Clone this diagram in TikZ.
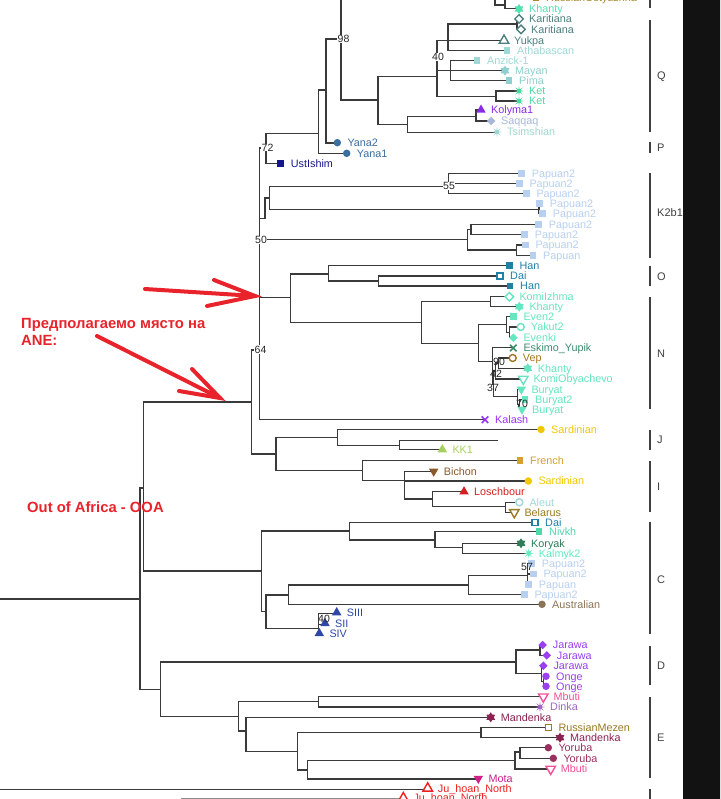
\documentclass[tikz,border=0pt]{standalone}
\usepackage{fontspec}
\newfontfamily\lf{Liberation Sans}
\usetikzlibrary{shapes.geometric,shapes.misc}
\definecolor{cRO}{HTML}{A88A30}
\definecolor{cKh}{HTML}{55E0B0}
\definecolor{cKar}{HTML}{4D8080}
\definecolor{cAth}{HTML}{A0D8D8}
\definecolor{cMay}{HTML}{8ED0D0}
\definecolor{cKet}{HTML}{4ED8A0}
\definecolor{cKol}{HTML}{8A2BE2}
\definecolor{cSaq}{HTML}{A9B8D8}
\definecolor{cTsi}{HTML}{9ED8D0}
\definecolor{cYana}{HTML}{3A6FA0}
\definecolor{cUst}{HTML}{16168C}
\definecolor{cPap}{HTML}{B8D0F0}
\definecolor{cHan}{HTML}{2080A8}
\definecolor{cN}{HTML}{66E6C0}
\definecolor{cEsk}{HTML}{3C8C6C}
\definecolor{cVep}{HTML}{A07820}
\definecolor{cKal}{HTML}{9B30FF}
\definecolor{cSar}{HTML}{F2C800}
\definecolor{cKK}{HTML}{A8D060}
\definecolor{cFr}{HTML}{D4A030}
\definecolor{cBi}{HTML}{8B5A2B}
\definecolor{cLo}{HTML}{D42020}
\definecolor{cBel}{HTML}{9A7A20}
\definecolor{cNiv}{HTML}{50D8A8}
\definecolor{cKor}{HTML}{2E7D5A}
\definecolor{cKlm}{HTML}{60EDC0}
\definecolor{cAus}{HTML}{8B7355}
\definecolor{cS}{HTML}{2F48A8}
\definecolor{cJar}{HTML}{9B40F0}
\definecolor{cMbu}{HTML}{F0509A}
\definecolor{cDin}{HTML}{A066C0}
\definecolor{cMan}{HTML}{8B2252}
\definecolor{cYor}{HTML}{9B3060}
\definecolor{cMot}{HTML}{D0208A}
\definecolor{cJu}{HTML}{F02020}
\definecolor{cRed}{HTML}{E8232B}
\definecolor{cBr}{HTML}{3A3A3A}
\tikzset{
 br/.style={draw=cBr, line width=1.1pt, line cap=rect},
 mk/.style={inner sep=0pt, outer sep=0pt},
 sqf/.style={mk, rectangle, minimum size=6.5pt, fill=#1},
 sqo/.style={mk, rectangle, minimum size=6pt, draw=#1, line width=1.4pt, fill=white},
 dia/.style={mk, diamond, minimum size=8.5pt, fill=#1},
 diao/.style={mk, diamond, minimum size=8.5pt, draw=#1, line width=1.4pt, fill=white},
 tri/.style={mk, regular polygon, regular polygon sides=3, minimum size=11pt, fill=#1},
 trio/.style={mk, regular polygon, regular polygon sides=3, minimum size=11pt, draw=#1, line width=1.4pt, fill=white},
 trid/.style={mk, regular polygon, regular polygon sides=3, shape border rotate=180, minimum size=11pt, fill=#1},
 trido/.style={mk, regular polygon, regular polygon sides=3, shape border rotate=180, minimum size=11pt, draw=#1, line width=1.4pt, fill=white},
 cir/.style={mk, circle, minimum size=7.5pt, fill=#1},
 ciro/.style={mk, circle, minimum size=7pt, draw=#1, line width=1.4pt, fill=white},
 ast/.style={mk, star, star points=8, star point ratio=3, minimum size=10pt, fill=#1},
 sdav/.style={mk, star, star points=6, star point ratio=1.6, minimum size=10pt, fill=#1},
 xm/.style={mk, cross out, draw=#1, line width=1.6pt, minimum size=6.5pt},
 lab/.style={anchor=base west, inner sep=0pt, font=\lf\fontsize{10.8}{12}\selectfont},
 boot/.style={inner sep=0.3pt, fill=white, font=\lf\fontsize{10.5}{12}\selectfont, text=black!85},
 cbar/.style={draw=black!75, line width=1.2pt},
 clab/.style={anchor=west, inner sep=0pt, font=\lf\fontsize{11}{12}\selectfont, text=black!75},
 arr/.style={draw=cRed, line width=4pt, line cap=round},
 ann/.style={anchor=base west, inner sep=0pt, text=cRed, font=\lf\bfseries\fontsize{14.8}{17}\selectfont},
}
\newcounter{tc}
\newcommand\tip[5]{\stepcounter{tc}\node[#1=#4] (m\thetc) at (#2,#3) {};\node[lab,text=#4] (l\thetc) at (#2+10,#3+3.9) {#5};}
\newcommand\hb[3]{\draw[br] (#1,#3) -- (#2,#3);}
\newcommand\vb[3]{\draw[br] (#1,#2) -- (#1,#3);}
\begin{document}
\begin{tikzpicture}[x=1pt,y=-1pt]
\useasboundingbox (0,0) rectangle (720,799);
\clip (0,0) rectangle (720,799);
\fill[white] (0,0) rectangle (720,799);
% ---------- top / Q ----------
\vb{495}{-12}{5}\hb{495}{505}{5}\vb{505}{-2}{8.3}\hb{505}{536}{-2}\hb{505}{519}{8.3}
\vb{341}{-12}{100}\hb{326}{341}{39}
\hb{341}{378}{100}\vb{378}{76.7}{124.3}
\hb{378}{437}{76.7}\vb{437}{40.7}{96.7}
\hb{437}{448}{40.7}\vb{448}{24}{50.7}
\hb{448}{517}{24}\vb{517}{19}{29.3}\hb{517}{519}{19}\hb{517}{521}{29.3}
\hb{448}{504}{40.7}\hb{448}{507}{50.7}
\hb{437}{450.7}{70.7}\vb{450.7}{60.7}{80.7}\hb{450.7}{477}{60.7}\hb{450.7}{505}{70.7}\hb{450.7}{509}{80.7}
\hb{437}{496}{96.7}\vb{496}{91}{101}\hb{496}{519}{91}\hb{496}{519}{101}
\hb{378}{407.7}{124.3}\vb{407.7}{116.7}{132.3}\hb{407.7}{476}{116.7}\vb{476}{110}{121}\hb{476}{481}{110}\hb{476}{491}{121}\hb{407.7}{497}{132.3}
% P
\vb{326}{39}{143}\hb{326}{337}{143}
\hb{318.7}{326}{90}\vb{318.7}{90}{153.3}\hb{318.7}{346.7}{153.3}
\hb{266}{318.7}{133.3}\vb{266}{133.3}{163.3}\hb{266}{280.7}{163.3}
\hb{259.3}{266}{148}\vb{259.3}{148}{419.7}
% K2b1
\hb{259.3}{265}{218.3}\vb{265}{198}{218.3}\hb{265}{269.3}{198}\vb{269.3}{186.7}{209.3}
\hb{269.3}{448.3}{186.7}\vb{448.3}{173.3}{193.3}\hb{448.3}{521.7}{173.3}\hb{448.3}{519.3}{183.3}\hb{448.3}{526.3}{193.3}
\hb{269.3}{539}{209.3}\vb{539}{203.3}{213.3}\hb{539}{542.7}{213.3}
\hb{259.3}{467.7}{239.3}\vb{467.7}{229.5}{250}\hb{467.7}{471}{229.5}\vb{471}{224.3}{234.7}\hb{471}{538.7}{224.3}\hb{471}{524.7}{234.7}
\hb{467.7}{516.7}{250}\vb{516.7}{245}{255.3}\hb{516.7}{525.3}{245}\hb{516.7}{533}{255.3}
% O / N
\hb{259.3}{290.7}{297.7}\vb{290.7}{274}{322.7}
\hb{290.7}{328.3}{274}\vb{328.3}{265.7}{281}\hb{328.3}{509.3}{265.7}\hb{328.3}{378.3}{281}\vb{378.3}{276}{286}\hb{378.3}{500}{276}\hb{378.3}{510}{286}
\hb{290.7}{421.7}{322.7}\vb{421.7}{301.7}{343.3}
\hb{421.7}{490.7}{301.7}\vb{490.7}{296.7}{306.7}\hb{490.7}{509.3}{296.7}\hb{490.7}{519.3}{306.7}
\hb{421.7}{478.3}{343.3}\vb{478.3}{324.3}{361.7}
\hb{478.3}{506.7}{324.3}\vb{506.7}{316.7}{332.3}\hb{506.7}{513.3}{316.7}\hb{506.7}{509.3}{332.3}\vb{509.3}{327}{337.7}\hb{509.3}{520.7}{327}\hb{509.3}{513.3}{337.7}
\hb{478.3}{492.3}{361.7}\vb{492.3}{347.7}{384}\hb{492.3}{513.3}{347.7}
\hb{492.3}{493.5}{384}\vb{493.5}{371}{396.7}
\hb{493.5}{495.7}{371}\vb{495.7}{363}{379}\hb{495.7}{523.3}{379}
\hb{495.7}{498.3}{363}\vb{498.3}{358}{368.3}\hb{498.3}{512.7}{358}\hb{498.3}{527.7}{368.3}
\hb{493.5}{517.3}{396.7}\vb{517.3}{389.3}{404.3}\hb{517.3}{521.3}{389.3}\hb{517.3}{519.5}{404.3}\vb{519.5}{399.3}{409.3}\hb{519.5}{525}{399.3}\hb{519.5}{522}{409.3}
\hb{259.3}{485}{419.7}
% 64 / J / I
\hb{251.3}{259.3}{350}\vb{251.3}{350}{454}
\hb{143.3}{251.3}{402}
\hb{251.3}{276}{454}\vb{276}{437.7}{470.3}
\hb{276}{337.7}{437.7}\vb{337.7}{429.5}{445.7}\hb{337.7}{541}{429.5}
\hb{337.7}{399.3}{445.7}\vb{399.3}{440.3}{449.5}\hb{399.3}{497.7}{440.3}\hb{399.3}{442.3}{449.5}
\hb{276}{362.3}{470.3}\vb{362.3}{460.7}{480.3}\hb{362.3}{520}{460.7}
\hb{362.3}{404.3}{480.3}\vb{404.3}{471.3}{499}\hb{404.3}{433.7}{471.3}\hb{404.3}{528.3}{481}
\hb{404.3}{432.3}{499}\vb{432.3}{491.7}{506.7}\hb{432.3}{464}{491.7}
\hb{432.3}{505.7}{506.7}\vb{505.7}{502.3}{512.3}\hb{505.7}{519.3}{502.3}\hb{505.7}{514.3}{512.3}
% OOA
\vb{143.3}{402}{571}\hb{143.3}{261.7}{571}
\hb{140}{143.3}{488}\vb{140}{488}{689.3}\hb{0}{140}{599}
\hb{140}{160.3}{689.3}\vb{160.3}{662}{716.5}
% C
\vb{261.7}{531}{611.7}
\hb{261.7}{349.3}{531}\vb{349.3}{522.3}{540}\hb{349.3}{535}{522.3}
\hb{349.3}{435}{540}\vb{435}{531.7}{547.7}\hb{435}{539}{531.7}
\hb{435}{462.3}{547.7}\vb{462.3}{543.3}{553.3}\hb{462.3}{521}{543.3}\hb{462.3}{528.7}{553.3}
\hb{261.7}{266}{611.7}\vb{266}{595}{628.3}
\hb{266}{288.3}{595}\vb{288.3}{585}{604.3}
\hb{288.3}{468.3}{585}\vb{468.3}{575.7}{594.3}
\hb{468.3}{527.3}{575.7}\vb{527.3}{563.3}{584.3}\hb{527.3}{531.7}{563.3}\hb{527.3}{533.3}{574}\hb{527.3}{528.7}{584.3}
\hb{468.3}{524.3}{594.3}
\hb{288.3}{542}{604.3}
\hb{266}{318.3}{628.3}\vb{318.3}{613.7}{634.3}\hb{318.3}{336.7}{613.7}\hb{318.3}{325}{624.3}
% D
\hb{160.3}{516}{662}\vb{516}{650}{673.3}
\hb{516}{540}{650}\vb{540}{645}{655.3}\hb{540}{542.7}{645}\hb{540}{546.7}{655.3}
\hb{516}{541.7}{673.3}\vb{541.7}{665.7}{681.3}\hb{541.7}{543.3}{665.7}\hb{541.7}{543.7}{681.3}\vb{543.7}{676.3}{686.3}\hb{543.7}{546}{676.3}\hb{543.7}{546}{686.3}
% E
\hb{160.3}{238.3}{716.5}\vb{238.3}{701.7}{731}
\hb{238.3}{318.3}{701.7}\vb{318.3}{696.7}{707}\hb{318.3}{543.3}{696.7}\hb{318.3}{540}{707}
\hb{238.3}{246}{731}\vb{246}{717.3}{751.7}\hb{246}{490.7}{717.3}
\hb{246}{297.3}{751.7}\vb{297.3}{732.7}{770}
\hb{297.3}{481}{732.7}\vb{481}{727.7}{737.7}\hb{481}{548.3}{727.7}\hb{481}{560}{737.7}
\hb{297.3}{307.3}{770}\vb{307.3}{760.7}{779}
\hb{307.3}{515}{760.7}\vb{515}{752}{769}\hb{515}{520}{752}\vb{520}{747.7}{758.3}\hb{520}{548.3}{747.7}\hb{520}{553.3}{758.3}\hb{515}{550.7}{769}
\hb{307.3}{478.3}{779}
% bottom
\hb{0}{427.7}{789.3}
\draw[br,draw=black!45] (181.7,798.5) -- (403.3,798.5);
% ---------- tips ----------
\tip{sqf}{536}{-2}{cRO}{RussianOstyuzhna}
\tip{sdav}{519}{9}{cKh}{Khanty}
\tip{diao}{519}{19}{cKar}{Karitiana}
\tip{diao}{521}{29.3}{cKar}{Karitiana}
\tip{trio}{504}{40.5}{cKar}{Yukpa}
\tip{sqf}{507}{50.7}{cAth}{Athabascan}
\tip{sqf}{477}{60.7}{cAth}{Anzick-1}
\tip{sdav}{505}{70.7}{cMay}{Mayan}
\tip{sqf}{509}{80.7}{cMay}{Pima}
\tip{ast}{519}{91}{cKet}{Ket}
\tip{ast}{519}{101}{cKet}{Ket}
\tip{tri}{481}{110}{cKol}{Kolyma1}
\tip{dia}{491}{121}{cSaq}{Saqqaq}
\tip{ast}{497}{132}{cTsi}{Tsimshian}
\tip{cir}{337.3}{142.7}{cYana}{Yana2}
\tip{cir}{346.7}{153.3}{cYana}{Yana1}
\tip{sqf}{280.7}{163.3}{cUst}{UstIshim}
\tip{sqf}{521.7}{173.3}{cPap}{Papuan2}
\tip{sqf}{519.3}{183.3}{cPap}{Papuan2}
\tip{sqf}{526.3}{193.3}{cPap}{Papuan2}
\tip{sqf}{539.7}{203.3}{cPap}{Papuan2}
\tip{sqf}{542.7}{213.3}{cPap}{Papuan2}
\tip{sqf}{538.7}{224.3}{cPap}{Papuan2}
\tip{sqf}{524.7}{234.7}{cPap}{Papuan2}
\tip{sqf}{525.3}{245}{cPap}{Papuan2}
\tip{sqf}{533}{255.3}{cPap}{Papuan}
\tip{sqf}{509.3}{265.7}{cHan}{Han}
\tip{sqo}{500}{276}{cHan}{Dai}
\tip{sqf}{510}{286}{cHan}{Han}
\tip{diao}{509.3}{296.7}{cN}{KomiIzhma}
\tip{sdav}{519.3}{306.7}{cN}{Khanty}
\tip{sqf}{513.3}{316.7}{cN}{Even2}
\tip{ciro}{520.7}{327}{cN}{Yakut2}
\tip{dia}{513.3}{337.7}{cN}{Evenki}
\tip{xm}{513.3}{348}{cEsk}{Eskimo\_Yupik}
\tip{ciro}{512.7}{358}{cVep}{Vep}
\tip{sdav}{527.7}{368.3}{cN}{Khanty}
\tip{trido}{523.3}{379}{cN}{KomiObyachevo}
\tip{trid}{521.3}{389.3}{cN}{Buryat}
\tip{sqf}{525}{399.3}{cN}{Buryat2}
\tip{trid}{522}{409.3}{cN}{Buryat}
\tip{xm}{485}{419.7}{cKal}{Kalash}
\tip{cir}{541}{429.5}{cSar}{Sardinian}
\tip{tri}{442.3}{449.5}{cKK}{KK1}
\tip{sqf}{520}{460.7}{cFr}{French}
\tip{trid}{433.7}{471.3}{cBi}{Bichon}
\tip{cir}{528.3}{481}{cSar}{Sardinian}
\tip{tri}{464}{491.7}{cLo}{Loschbour}
\tip{ciro}{519.3}{502.3}{cAth}{Aleut}
\tip{trido}{514.3}{512.3}{cBel}{Belarus}
\tip{sqo}{535}{522.3}{cHan}{Dai}
\tip{sqf}{539}{531.7}{cNiv}{Nivkh}
\tip{sdav}{521}{543.3}{cKor}{Koryak}
\tip{ast}{528.7}{553.3}{cKlm}{Kalmyk2}
\tip{sqf}{531.7}{563.3}{cPap}{Papuan2}
\tip{sqf}{533.3}{574}{cPap}{Papuan2}
\tip{sqf}{528.7}{584.3}{cPap}{Papuan}
\tip{sqf}{524.3}{594.3}{cPap}{Papuan2}
\tip{cir}{542}{604.3}{cAus}{Australian}
\tip{tri}{336.7}{612.5}{cS}{SIII}
\tip{tri}{325}{623.3}{cS}{SII}
\tip{tri}{319.3}{633.3}{cS}{SIV}
\tip{dia}{542.7}{645}{cJar}{Jarawa}
\tip{dia}{546.7}{655.3}{cJar}{Jarawa}
\tip{dia}{543.3}{665.7}{cJar}{Jarawa}
\tip{cir}{546}{676.3}{cJar}{Onge}
\tip{cir}{546}{686.3}{cJar}{Onge}
\tip{trido}{543.3}{696.7}{cMbu}{Mbuti}
\tip{ast}{540}{707}{cDin}{Dinka}
\tip{sdav}{490.7}{717.3}{cMan}{Mandenka}
\tip{sqo}{548.3}{727.7}{cBel}{RussianMezen}
\tip{sdav}{560}{737.7}{cMan}{Mandenka}
\tip{cir}{548.3}{747.7}{cYor}{Yoruba}
\tip{cir}{553.3}{758.3}{cYor}{Yoruba}
\tip{trido}{550.7}{769}{cMbu}{Mbuti}
\tip{trid}{478.3}{778.5}{cMot}{Mota}
\tip{trio}{427.7}{788.3}{cJu}{Ju\_hoan\_North}
\tip{trio}{403.3}{798}{cJu}{Ju\_hoan\_North}
% ---------- bootstrap values ----------
\node[boot] (b98) at (343.5,39) {98};
\node[boot] (b40a) at (438,57) {40};
\node[boot] (b72) at (267.5,147.5) {72};
\node[boot] (b55) at (449,186) {55};
\node[boot] (b50) at (261,240) {50};
\node[boot] (b64) at (260.5,349.5) {64};
\node[boot,fill=none] (b90) at (499,362) {90};
\node[boot,fill=none] (b42) at (496,374) {42};
\node[boot,fill=none] (b37) at (493,388) {37};
\node[boot,fill=none] (b70) at (522,404) {70};
\node[boot,fill=none] (b57) at (527,567) {57};
\node[boot,fill=none] (b40b) at (324,619) {40};
% ---------- clade bars ----------
\draw[cbar] (650,-5) -- (650,8);
\draw[cbar] (650,20) -- (650,132);
\draw[cbar] (650,141.7) -- (650,153.3);
\draw[cbar] (650,173) -- (650,258);
\draw[cbar] (650,266) -- (650,286);
\draw[cbar] (650,297) -- (650,409);
\draw[cbar] (650,430) -- (650,450);
\draw[cbar] (650,461) -- (650,511.7);
\draw[cbar] (650,522) -- (650,634);
\draw[cbar] (650,646) -- (650,685);
\draw[cbar] (650,697) -- (650,778);
\draw[cbar] (650,789) -- (650,805);
\node[clab] (cQ) at (657,77) {Q};
\node[clab] (cP) at (657,148) {P};
\node[clab] (cK) at (657,213) {K2b1};
\node[clab] (cO) at (657,277) {O};
\node[clab] (cN) at (657,354) {N};
\node[clab] (cJ) at (657,440) {J};
\node[clab] (cI) at (657,487) {I};
\node[clab] (cC) at (657,580) {C};
\node[clab] (cD) at (657,666) {D};
\node[clab] (cE) at (657,738) {E};
% ---------- annotations ----------
\coordinate (a1s) at (145,289);
\coordinate (a1e) at (255,296);
\coordinate (a1u) at (214,280);
\coordinate (a1l) at (207,306);
\draw[arr] (a1s) -- (a1e);
\draw[arr] (a1u) -- (a1e) -- (a1l);
\coordinate (a2s) at (97,336);
\coordinate (a2e) at (220,398);
\coordinate (a2u) at (192,369);
\coordinate (a2l) at (179,391);
\draw[arr] (a2s) -- (a2e);
\draw[arr] (a2u) -- (a2e) -- (a2l);
\node[ann] (t1) at (21,328) {Предполагаемо място на};
\node[ann] (t2) at (21,345) {ANE:};
\node[ann] (t3) at (27,512) {Out of Africa - OOA};
% ---------- black stripe ----------
\fill[black!93] (683,-10) rectangle (730,810);
\end{tikzpicture}
\end{document}
